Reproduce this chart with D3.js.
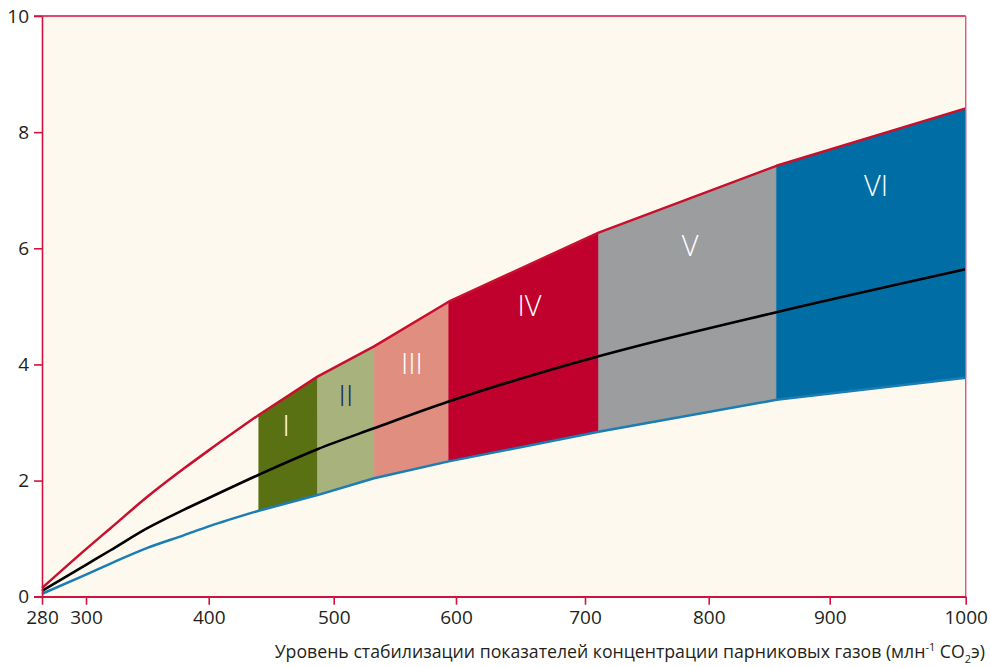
<!DOCTYPE html>
<html><head><meta charset="utf-8">
<script src="https://cdn.jsdelivr.net/npm/d3@7"></script>
<style>
html,body{margin:0;padding:0;background:#fff;}
svg{display:block;}
text{font-family:"Open Sans","Noto Sans",sans-serif;fill:#231f20;}
</style></head>
<body>
<svg id="chart" width="990" height="667"></svg>
<script>
// ---- data ----
const xTicks = [280, 300, 400, 500, 600, 700, 800, 900, 1000];
const yTicks = [0, 2, 4, 6, 8, 10];
const concentration = [280, 300, 320, 350, 380, 400, 440, 487, 533, 594, 711, 856, 1000];
const upperBound = [0.15, 0.82, 1.18, 1.72, 2.21, 2.52, 3.13, 3.79, 4.31, 5.08, 6.27, 7.42, 8.41];
const lowerBound = [0.05, 0.38, 0.57, 0.84, 1.06, 1.21, 1.48, 1.75, 2.04, 2.33, 2.84, 3.39, 3.77];
const bestEstimate = [0.10, 0.55, 0.80, 1.18, 1.50, 1.70, 2.10, 2.54, 2.90, 3.36, 4.14, 4.90, 5.64];
const categories = ["I", "II", "III", "IV", "V", "VI"];
const catStart = [440, 487, 533, 594, 711, 856];
const catEnd = [487, 533, 594, 711, 856, 1000];
const catColors = ["#5a7113", "#a7b27c", "#e08e80", "#c0002d", "#9c9d9f", "#006ea5"];
const catLabelColors = ["#ffffff", "#1c2a6b", "#ffffff", "#ffffff", "#ffffff", "#ffffff"];
const catLabelX = [462, 510, 564, 657, 785, 934];
const catLabelY = [2.95, 3.46, 4.01, 5.01, 6.05, 7.08];
const xTitle = "Уровень стабилизации показателей концентрации парниковых газов (млн";

// ---- layout ----
const svg = d3.select("#chart");
const axisColor = "#d2123f";
const x = d3.scaleLinear()
  .domain(xTicks)
  .range([42, 86, 208.7, 333.7, 456, 585, 708.7, 829.7, 965.7]);
const y = d3.scaleLinear().domain([0, 10]).range([596.7, 16]);

// background
svg.append("rect")
  .attr("x", x(280)).attr("y", y(10))
  .attr("width", x(1000) - x(280)).attr("height", y(0) - y(10))
  .attr("fill", "#fef9ee");

const pts = concentration.map((c, i) => ({c, up: upperBound[i], lo: lowerBound[i], mid: bestEstimate[i]}));
const early = pts.filter(p => p.c <= catStart[0]);
const late = pts.filter(p => p.c >= catStart[0]);

// category bands
categories.forEach((cat, i) => {
  const seg = pts.filter(p => p.c >= catStart[i] && p.c <= catEnd[i]);
  const area = d3.area().x(p => x(p.c)).y0(p => y(p.lo)).y1(p => y(p.up)).curve(d3.curveLinear);
  svg.append("path").attr("d", area(seg)).attr("fill", catColors[i]).attr("stroke", catColors[i]).attr("stroke-width", 0.5);
});

// lines: smooth before the categories, straight segments between category edges
function drawBound(key, color) {
  const smooth = d3.line().x(p => x(p.c)).y(p => y(p[key])).curve(d3.curveMonotoneX);
  const straight = d3.line().x(p => x(p.c)).y(p => y(p[key])).curve(d3.curveLinear);
  const d = smooth(early) + straight(late).replace(/^M/, "L");
  svg.append("path").attr("d", d).attr("fill", "none").attr("stroke", color)
    .attr("stroke-width", 2.5).attr("stroke-linejoin", "round");
}
drawBound("lo", "#1a7db4");
drawBound("up", "#c8102e");
const lineMid = d3.line().x(p => x(p.c)).y(p => y(p.mid)).curve(d3.curveMonotoneX);
svg.append("path").attr("d", lineMid(pts)).attr("fill", "none").attr("stroke", "#000").attr("stroke-width", 2.6);

// category labels
categories.forEach((cat, i) => {
  svg.append("text")
    .attr("x", x(catLabelX[i])).attr("y", y(catLabelY[i]))
    .attr("text-anchor", "middle").attr("dy", "0.36em")
    .style("font-size", "29px").style("font-weight", 300)
    .style("fill", catLabelColors[i])
    .text(cat);
});

// frame top & right
svg.append("line").attr("x1", x(280) - 8).attr("x2", x(1000)).attr("y1", y(10)).attr("y2", y(10))
  .attr("stroke", axisColor).attr("stroke-width", 1.6);
svg.append("line").attr("x1", x(1000)).attr("x2", x(1000)).attr("y1", y(10)).attr("y2", y(0))
  .attr("stroke", "#d4587a").attr("stroke-width", 1.4);

// axes
const yAxis = svg.append("g").attr("transform", `translate(${x(280)},0)`)
  .call(d3.axisLeft(y).tickValues(yTicks).tickSize(8).tickSizeOuter(0).tickPadding(5).tickFormat(d3.format("d")));
const xAxis = svg.append("g").attr("transform", `translate(0,${y(0)})`)
  .call(d3.axisBottom(x).tickValues(xTicks).tickSize(8).tickSizeOuter(0).tickPadding(6).tickFormat(d3.format("d")));
[yAxis, xAxis].forEach(g => {
  g.selectAll("path.domain").attr("stroke", axisColor).attr("stroke-width", 1.6);
  g.selectAll(".tick line").attr("stroke", axisColor).attr("stroke-width", 1.6);
  g.selectAll(".tick text").style("font-size", "19px").style("font-family", '"Open Sans","Noto Sans",sans-serif').attr("fill", "#231f20");
});
yAxis.select("path.domain").raise();
svg.append("line").attr("x1", x(280) - 8).attr("x2", x(1000)).attr("y1", y(0)).attr("y2", y(0))
  .attr("stroke", axisColor).attr("stroke-width", 1.6);

// axis title
const t = svg.append("text").attr("x", 985).attr("y", 658).attr("text-anchor", "end")
  .style("font-size", "17.7px");
t.append("tspan").text(xTitle);
t.append("tspan").attr("dy", -7).style("font-size", "11px").text("-1");
t.append("tspan").attr("dy", 7).text(" CO");
t.append("tspan").attr("dy", 5).style("font-size", "11px").text("2");
t.append("tspan").attr("dy", -5).text("э)");
</script>
</body></html>
